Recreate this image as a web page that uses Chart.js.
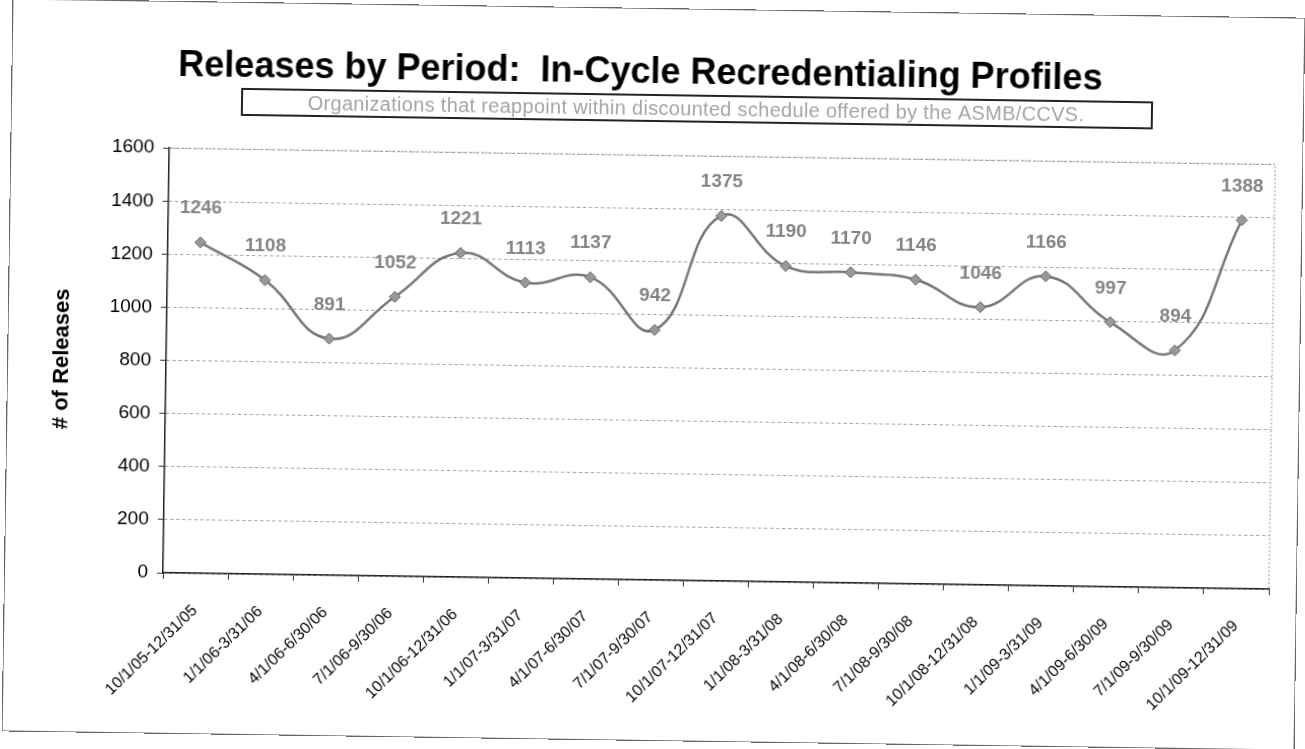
<!DOCTYPE html>
<html>
<head>
<meta charset="utf-8">
<script src="https://cdn.jsdelivr.net/npm/chart.js@4.4.1/dist/chart.umd.min.js"></script>
<style>
  html, body { margin: 0; padding: 0; background: #fff; overflow: hidden; }
  /* the source is a slightly skewed scan, so the whole sheet is tilted a little */
  #wrap { position: relative; width: 1305px; height: 749px; transform: rotate(0.85deg); transform-origin: 652px 374px; }
  #frame { position: absolute; left: 7px; top: 8px; width: 1293px; height: 733px; border: 1px solid #666; box-sizing: border-box; pointer-events: none; }
</style>
</head>
<body>
<div id="wrap">
  <canvas id="releasesChart" width="1305" height="749"></canvas>
  <div id="frame"></div>
</div>
<script>
const periods = [
  "10/1/05-12/31/05", "1/1/06-3/31/06", "4/1/06-6/30/06", "7/1/06-9/30/06",
  "10/1/06-12/31/06", "1/1/07-3/31/07", "4/1/07-6/30/07", "7/1/07-9/30/07",
  "10/1/07-12/31/07", "1/1/08-3/31/08", "4/1/08-6/30/08", "7/1/08-9/30/08",
  "10/1/08-12/31/08", "1/1/09-3/31/09", "4/1/09-6/30/09", "7/1/09-9/30/09",
  "10/1/09-12/31/09"
];
const releases = [1246, 1108, 891, 1052, 1221, 1113, 1137, 942, 1375, 1190, 1170, 1146, 1046, 1166, 997, 894, 1388];

const chartTitle = "Releases by Period:  In-Cycle Recredentialing Profiles";
const subTitle = "Organizations that reappoint within discounted schedule offered by the ASMB/CCVS.";
const yTitle = "# of Releases";

const FONT = "Arial, 'Liberation Sans', sans-serif";

// number labels above each point + plot frame + subtitle box
const extras = {
  id: "extras",
  beforeDatasetsDraw(chart) {
    const { ctx, chartArea: a } = chart;
    ctx.save();
    ctx.strokeStyle = "#999";
    ctx.lineWidth = 1;
    ctx.setLineDash([2, 2]);
    ctx.beginPath();
    ctx.moveTo(a.left, a.top);
    ctx.lineTo(a.right, a.top);
    ctx.lineTo(a.right, a.bottom);
    ctx.stroke();
    ctx.restore();
  },
  afterDraw(chart) {
    const ctx = chart.ctx;
    const meta = chart.getDatasetMeta(0);
    ctx.save();
    ctx.font = "bold 19px " + FONT;
    ctx.fillStyle = "#858585";
    ctx.textAlign = "center";
    ctx.textBaseline = "middle";
    meta.data.forEach((pt, i) => {
      ctx.fillText(String(releases[i]), pt.x, pt.y - 34);
    });

    // subtitle in a box
    ctx.font = "20px " + FONT;
    ctx.letterSpacing = "0.3px";
    ctx.fillStyle = "#a5a5a5";
    ctx.fillText(subTitle, 692, 109);
    ctx.letterSpacing = "0px";
    ctx.strokeStyle = "#222";
    ctx.lineWidth = 2;
    ctx.strokeRect(238, 95, 910, 26);
    ctx.restore();
  }
};

const ctx = document.getElementById("releasesChart").getContext("2d");
new Chart(ctx, {
  type: "line",
  data: {
    labels: periods,
    datasets: [{
      label: "Releases",
      data: releases,
      borderColor: "#777",
      borderWidth: 2.5,
      tension: 0.45,
      pointStyle: "rectRot",
      pointRadius: 5.5,
      pointBackgroundColor: "#999",
      pointBorderColor: "#666",
      pointBorderWidth: 1
    }]
  },
  options: {
    responsive: false,
    animation: false,
    layout: { padding: { left: 0, right: 33, top: 0, bottom: 0 } },
    plugins: {
      legend: { display: false },
      tooltip: { enabled: false },
      title: {
        display: true,
        text: chartTitle,
        color: "#000",
        font: { family: FONT, size: 36, weight: "bold" },
        padding: { top: 51, bottom: 61 }
      }
    },
    scales: {
      x: {
        offset: true,
        grid: { display: true, drawOnChartArea: false, drawTicks: true, tickLength: 6, offset: true, color: "#333" },
        border: { color: "#222", width: 1.5 },
        ticks: {
          color: "#000",
          font: { family: FONT, size: 16 },
          maxRotation: 45,
          minRotation: 45,
          padding: 22,
          autoSkip: false
        },
        afterFit(scale) { scale.height = 169; }
      },
      y: {
        min: 0,
        max: 1600,
        ticks: {
          stepSize: 200,
          color: "#000",
          font: { family: FONT, size: 19 },
          padding: 9,
          callback: (v) => String(v)
        },
        grid: { color: "#9a9a9a", tickLength: 6, tickColor: "#333" },
        border: { color: "#222", width: 1.5, dash: [3, 3] },
        title: {
          display: true,
          text: yTitle,
          color: "#000",
          font: { family: FONT, size: 22, weight: "bold" },
          padding: { top: 49, bottom: 0 }
        },
        afterFit(scale) { scale.width = 166; }
      }
    }
  },
  plugins: [extras]
});
</script>
</body>
</html>
